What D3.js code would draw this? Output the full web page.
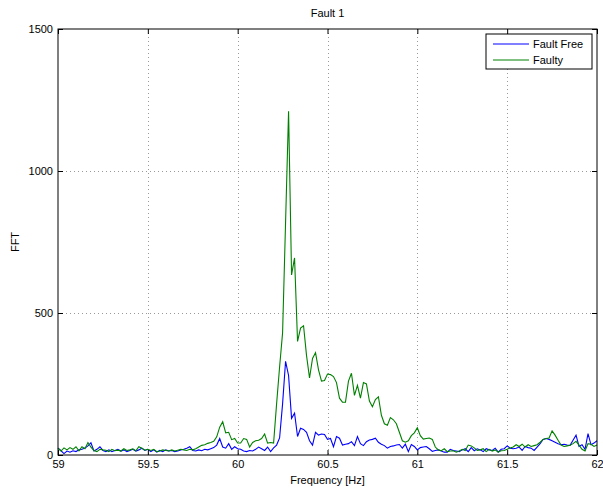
<!DOCTYPE html>
<html>
<head>
<meta charset="utf-8">
<script src="https://cdn.jsdelivr.net/npm/d3@7"></script>
<style>
  body { margin: 0; background: #fff; }
  svg { font-family: "Liberation Sans", Arial, sans-serif; }
  .tick text { font-size: 11px; fill: #000; }
</style>
</head>
<body>
<div id="chart"></div>
<script>
// frequency grid: 59 Hz .. 62 Hz, 1/60 Hz steps
const fStart = 59;
const fStep = 1 / 60;

const faultFree = [
  24, 15, 5, 14, 10, 15, 12, 18, 20, 25, 32, 43, 14, 20, 29, 16, 12, 18, 12, 16,
  20, 14, 18, 12, 16, 20, 14, 18, 24, 16, 20, 12, 18, 10, 16, 12, 18, 14, 16, 12,
  14, 18, 20, 24, 29, 16, 14, 18, 15, 20, 18, 22, 26, 35, 58, 28, 24, 40, 20, 29,
  22, 20, 14, 12, 16, 14, 20, 28, 22, 16, 28, 12, 25, 35, 60, 180, 330, 280, 129, 147,
  65, 94, 90, 80, 50, 35, 80, 70, 74, 72, 55, 58, 29, 65, 59, 35, 38, 40, 47, 33,
  65, 40, 33, 47, 53, 55, 59, 45, 38, 33, 24, 30, 32, 35, 37, 24, 38, 12, 37, 30,
  18, 26, 28, 30, 22, 13, 16, 18, 14, 10, 10, 20, 16, 14, 12, 18, 22, 12, 26, 15,
  22, 18, 12, 22, 18, 16, 24, 10, 20, 22, 32, 24, 22, 24, 28, 16, 30, 26, 24, 16,
  28, 40, 55, 58, 55, 50, 45, 40, 36, 38, 35, 34, 52, 70, 30, 36, 20, 75, 36, 42,
  50
];

const faulty = [
  24, 14, 25, 18, 26, 20, 29, 15, 29, 22, 44, 28, 16, 12, 20, 18, 17, 12, 20, 15,
  17, 14, 22, 16, 18, 22, 15, 29, 24, 17, 20, 16, 20, 12, 14, 18, 16, 14, 18, 14,
  17, 20, 18, 16, 20, 18, 22, 28, 34, 36, 41, 44, 48, 64, 98, 117, 78, 80, 54, 58,
  42, 42, 58, 55, 28, 44, 50, 52, 58, 74, 42, 44, 42, 180, 310, 430, 820, 1210, 634, 694,
  400, 447, 455, 350, 271, 340, 360, 300, 260, 262, 285, 283, 276, 255, 200, 186, 186, 260, 288, 210,
  245, 200, 255, 250, 190, 170, 195, 205, 140, 110, 105, 132, 124, 110, 80, 50, 45, 50, 68, 78,
  96, 68, 56, 58, 60, 55, 28, 18, 15, 22, 12, 14, 15, 10, 14, 20, 16, 35, 32, 25,
  16, 18, 22, 12, 20, 14, 18, 10, 15, 16, 20, 25, 28, 36, 30, 38, 28, 36, 30, 33,
  36, 45, 55, 58, 60, 85, 70, 52, 35, 30, 32, 34, 40, 48, 35, 20, 14, 40, 38, 30,
  35
];

const xTicks = [59, 59.5, 60, 60.5, 61, 61.5, 62];
const yTicks = [0, 500, 1000, 1500];

const seriesNames = ["Fault Free", "Faulty"];
const seriesColors = ["#0000ff", "#008000"];

const width = 603, height = 489;
const margin = {left: 58, right: 6, top: 29, bottom: 34};

const svg = d3.select("#chart").append("svg")
  .attr("width", width).attr("height", height);

const x = d3.scaleLinear().domain([59, 62]).range([margin.left, width - margin.right]);
const y = d3.scaleLinear().domain([0, 1500]).range([height - margin.bottom, margin.top]);

const x0 = x.range()[0], x1 = x.range()[1];
const y0 = y.range()[0], y1 = y.range()[1];

// grid
const grid = svg.append("g").attr("stroke", "#9a9a9a").attr("stroke-width", 1)
  .attr("stroke-dasharray", "1,3");
grid.selectAll(".gx").data(xTicks.slice(1, -1)).enter().append("line")
  .attr("x1", d => Math.round(x(d)) + 0.5).attr("x2", d => Math.round(x(d)) + 0.5)
  .attr("y1", y1).attr("y2", y0);
grid.selectAll(".gy").data(yTicks.slice(1, -1)).enter().append("line")
  .attr("y1", d => Math.round(y(d)) + 0.5).attr("y2", d => Math.round(y(d)) + 0.5)
  .attr("x1", x0).attr("x2", x1);

// data lines
const line = d3.line()
  .x((d, i) => x(fStart + i * fStep))
  .y(d => y(d));

[faultFree, faulty].forEach(function(s, k) {
  svg.append("path").datum(s)
    .attr("fill", "none")
    .attr("stroke", seriesColors[k])
    .attr("stroke-width", 1.1)
    .attr("d", line);
});

// axes, ticks inward on all sides
const fmt = d3.format("");
svg.append("g").attr("transform", `translate(0,${y0})`)
  .call(d3.axisBottom(x).tickValues(xTicks).tickFormat(fmt).tickSizeInner(-5).tickSizeOuter(0).tickPadding(5));
svg.append("g").attr("transform", `translate(0,${y1})`)
  .call(d3.axisTop(x).tickValues(xTicks).tickFormat("").tickSizeInner(-5).tickSizeOuter(0));
svg.append("g").attr("transform", `translate(${x0},0)`)
  .call(d3.axisLeft(y).tickValues(yTicks).tickFormat(fmt).tickSizeInner(-5).tickSizeOuter(0).tickPadding(5));
svg.append("g").attr("transform", `translate(${x1},0)`)
  .call(d3.axisRight(y).tickValues(yTicks).tickFormat("").tickSizeInner(-5).tickSizeOuter(0));

svg.selectAll(".domain").remove();
svg.selectAll(".tick line").attr("stroke", "#000");
svg.selectAll(".tick text").attr("font-size", 11);

// box
svg.append("rect")
  .attr("x", x0).attr("y", y1).attr("width", x1 - x0).attr("height", y0 - y1)
  .attr("fill", "none").attr("stroke", "#000").attr("stroke-width", 1);

// labels
svg.append("text").attr("x", (x0 + x1) / 2).attr("y", 17)
  .attr("text-anchor", "middle").attr("font-size", 11).text("Fault 1");
svg.append("text").attr("x", (x0 + x1) / 2).attr("y", 484)
  .attr("text-anchor", "middle").attr("font-size", 11).text("Frequency [Hz]");
svg.append("text").attr("transform", `translate(19,${(y0 + y1) / 2}) rotate(-90)`)
  .attr("text-anchor", "middle").attr("font-size", 11).text("FFT");

// legend
const lg = svg.append("g").attr("transform", "translate(486,34)");
lg.append("rect").attr("width", 106).attr("height", 35)
  .attr("fill", "#fff").attr("stroke", "#000").attr("stroke-width", 1);
seriesNames.forEach(function(name, k) {
  const ly = 10 + k * 16;
  lg.append("line").attr("x1", 7).attr("x2", 43).attr("y1", ly).attr("y2", ly)
    .attr("stroke", seriesColors[k]).attr("stroke-width", 1);
  lg.append("text").attr("x", 47).attr("y", ly + 4).attr("font-size", 11).text(name);
});
</script>
</body>
</html>
